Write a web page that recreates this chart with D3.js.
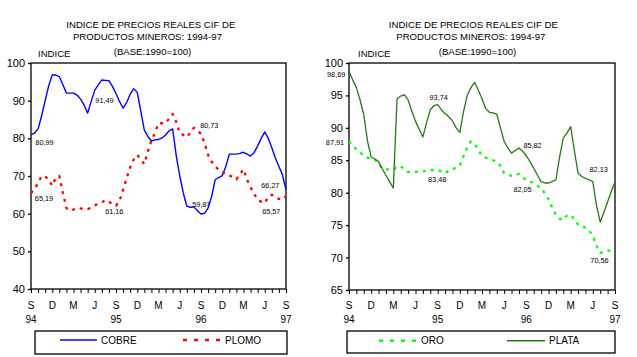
<!DOCTYPE html>
<html>
<head>
<meta charset="utf-8">
<script src="https://cdn.jsdelivr.net/npm/d3@7"></script>
<style>
  html, body { margin: 0; padding: 0; background: #fff; }
  svg { display: block; font-family: "Liberation Sans", Arial, sans-serif; }
</style>
</head>
<body>
<svg id="chart" width="637" height="357"></svg>
<script>
// ---------------- DATA ----------------
// Semi-monthly observations, months elapsed since September 1994
const months = d3.range(0, 36.5, 0.5);

const monthTickLabels = ["S","D","M","J","S","D","M","J","S","D","M","J","S"];
const yearTickLabels = ["94","95","96","97"];
const leftYTicks = [40, 50, 60, 70, 80, 90, 100];
const rightYTicks = [65, 70, 75, 80, 85, 90, 95, 100];

const titleLines = ["INDICE DE PRECIOS REALES CIF DE", "PRODUCTOS MINEROS: 1994-97", "(BASE:1990=100)"];
const yAxisTitle = "INDICE";

const cobre = [81.0,81.4,82.5,86.0,90.0,94.0,96.8,96.8,96.4,94.2,92.0,92.0,92.0,91.5,90.4,88.8,86.7,89.8,92.8,94.2,95.5,95.4,95.3,93.8,91.9,89.8,88.0,89.5,91.7,93.2,92.2,87.2,82.2,80.5,79.3,79.6,79.7,80.1,80.9,82.0,82.5,75.5,70.0,65.5,62.0,61.7,61.8,60.8,59.9,60.1,61.5,64.5,69.0,69.6,70.1,72.5,75.8,75.8,75.8,76.0,76.3,75.8,75.3,76.2,78.0,80.0,81.7,80.0,77.5,74.8,72.5,70.3,66.3];
const plomo = [65.4,66.5,68.2,70.0,69.9,69.0,67.4,69.5,70.0,65.5,61.5,60.8,61.1,61.5,61.4,61.2,61.2,61.6,62.2,62.6,63.0,63.6,63.2,62.4,62.1,63.5,66.3,69.4,72.3,74.4,75.6,74.4,73.2,76.5,79.4,81.5,84.0,84.0,84.0,85.3,86.5,84.4,81.4,80.9,80.3,81.5,82.8,82.0,81.2,78.7,75.6,73.8,72.6,71.6,71.0,70.5,70.1,69.8,69.1,70.5,71.8,69.0,67.0,65.3,63.7,63.2,62.8,64.5,65.0,64.6,63.9,63.7,64.6];
const oro = [87.9,87.2,86.7,86.2,85.7,85.4,85.3,85.1,84.6,83.7,83.6,83.6,83.6,84.0,84.1,83.5,83.2,83.2,83.2,83.2,83.3,83.4,83.5,83.5,83.5,83.3,83.0,83.4,83.6,83.9,84.2,85.6,87.0,87.9,87.6,86.6,85.7,85.4,85.2,85.0,84.8,84.1,83.0,82.8,82.6,82.8,82.9,82.4,81.9,81.7,81.5,81.1,80.7,79.9,79.0,77.7,76.6,76.0,75.8,76.5,76.6,75.9,75.1,74.9,74.6,74.2,73.3,71.8,70.7,70.9,71.1,71.0,70.8];
const plata = [98.7,97.4,96.2,94.3,92.0,88.0,85.5,85.2,84.8,83.7,82.7,81.7,80.7,94.5,94.9,95.1,94.3,92.6,91.0,89.8,88.6,90.8,92.8,93.4,93.6,92.8,92.2,91.7,91.1,90.0,89.3,92.5,95.0,96.2,97.0,95.8,94.5,93.0,92.4,92.3,92.1,90.0,87.9,86.9,86.1,86.5,86.9,86.4,85.7,84.8,83.8,82.7,81.7,81.5,81.5,81.7,82.0,85.5,88.4,89.2,90.2,86.5,83.0,82.5,82.2,82.0,81.7,78.0,75.5,77.0,78.6,80.2,81.7];

// value annotations: month, value, text
const leftNotes = [
  {m: 0, v: 80.99, t: "80,99"}, {m: 0, v: 65.19, t: "65,19"},
  {m: 12, v: 91.49, t: "91,49"}, {m: 12, v: 61.16, t: "61,16"},
  {m: 24, v: 80.73, t: "80,73"}, {m: 24, v: 59.87, t: "59,87"},
  {m: 36, v: 66.27, t: "66,27"}, {m: 36, v: 65.57, t: "65,57"}
];
const rightNotes = [
  {m: 0, v: 98.69, t: "98,69"}, {m: 0, v: 87.91, t: "87,91"},
  {m: 12, v: 93.74, t: "93,74"}, {m: 12, v: 83.48, t: "83,48"},
  {m: 24, v: 85.82, t: "85,82"}, {m: 24, v: 82.05, t: "82,05"},
  {m: 36, v: 82.13, t: "82,13"}, {m: 36, v: 70.56, t: "70,56"}
];

// ---------------- DRAWING ----------------
const svg = d3.select("#chart");

const leftOffsets = [[13.5,7.4],[13,4],[-11.5,5.6],[-1.7,2],[8.3,-10.4],[0.3,-10],[-15.7,-4.9],[-14.7,19]];
const rightOffsets = [[-12.8,3.5],[-14,0.9],[1,-5.9],[-0.5,8.9],[6.2,-9.3],[-3.8,9.9],[-16.3,-8.9],[-15.5,6.9]];

function panel(cfg) {
  const g = svg.append("g");
  const x = d3.scaleLinear().domain([0, 36]).range([cfg.x0, cfg.x1]);
  const y = d3.scaleLinear().domain(cfg.yDomain).range([cfg.y1, cfg.y0]);

  // titles
  cfg.titlePos.forEach((p, i) => {
    g.append("text").attr("x", p[0]).attr("y", p[1])
      .attr("text-anchor", "middle").attr("dominant-baseline", "central")
      .attr("font-size", 9.6).attr("fill", "#000").text(titleLines[i]);
  });
  g.append("text").attr("x", cfg.indiceX).attr("y", 53.5)
    .attr("dominant-baseline", "central").attr("font-size", 9.6).text(yAxisTitle);

  // frame
  g.append("rect").attr("x", cfg.x0).attr("y", cfg.y0)
    .attr("width", cfg.x1 - cfg.x0).attr("height", cfg.y1 - cfg.y0)
    .attr("fill", "none").attr("stroke", "#000").attr("stroke-width", 1.3);

  // y axis
  const ya = g.append("g").attr("transform", `translate(${cfg.x0},0)`)
    .call(d3.axisLeft(y).tickValues(cfg.yTicks).tickSize(3).tickPadding(3).tickFormat(d3.format("d")));
  ya.select(".domain").remove();
  ya.selectAll("line").attr("stroke", "#000").attr("stroke-width", 1.3);
  ya.selectAll("text").attr("font-size", 11).attr("fill", "#000").attr("font-family", "Liberation Sans, Arial, sans-serif");

  // x axis month ticks
  const xa = g.append("g").attr("transform", `translate(0,${cfg.y1})`)
    .call(d3.axisBottom(x).tickValues(d3.range(0, 37, 1)).tickSize(4).tickFormat(""));
  xa.select(".domain").remove();
  xa.selectAll("line").attr("stroke", "#000").attr("stroke-width", 1);

  // month labels
  monthTickLabels.forEach((lab, i) => {
    g.append("text").attr("x", x(i * 3)).attr("y", 305)
      .attr("text-anchor", "middle").attr("dominant-baseline", "central")
      .attr("font-size", 10).text(lab);
  });
  yearTickLabels.forEach((lab, i) => {
    g.append("text").attr("x", x(i * 12)).attr("y", 319)
      .attr("text-anchor", "middle").attr("dominant-baseline", "central")
      .attr("font-size", 10).text(lab);
  });

  // series
  cfg.series.forEach(s => {
    const line = d3.line().x((d, i) => x(months[i])).y(d => y(d));
    g.append("path").datum(s.values).attr("d", line)
      .attr("fill", "none").attr("stroke", s.color).attr("stroke-width", s.width)
      .attr("stroke-dasharray", s.dash || null).attr("stroke-linejoin", "round");
  });

  // annotations
  cfg.notes.forEach((n, i) => {
    const o = cfg.offsets[i];
    g.append("text").attr("x", x(n.m) + o[0]).attr("y", y(n.v) + o[1])
      .attr("text-anchor", "middle").attr("dominant-baseline", "central")
      .attr("font-size", 7.3).attr("fill", "#000").text(n.t);
  });

  // legend
  const L = cfg.legend;
  g.append("rect").attr("x", L.box[0]).attr("y", L.box[1]).attr("width", L.box[2]).attr("height", L.box[3])
    .attr("fill", "none").attr("stroke", "#000").attr("stroke-width", 1.3);
  L.items.forEach(it => {
    const s = cfg.series[it.idx];
    g.append("line").attr("x1", it.x).attr("x2", it.x + it.w).attr("y1", L.ly).attr("y2", L.ly)
      .attr("stroke", s.color).attr("stroke-width", s.dash ? 2.5 : 1.5).attr("stroke-dasharray", s.legendDash || null);
    g.append("text").attr("x", it.x + it.w + 4).attr("y", L.ly)
      .attr("dominant-baseline", "central").attr("font-size", 10).text(s.name);
  });
}

panel({
  x0: 31, x1: 286, y0: 63, y1: 289, yDomain: [40, 100], yTicks: leftYTicks,
  titlePos: [[150.8, 24], [147.5, 36], [152.5, 51.7]], indiceX: 38,
  series: [
    {name: "COBRE", values: cobre, color: "#0000ff", width: 1.4},
    {name: "PLOMO", values: plomo, color: "#ff0000", width: 2.3, dash: "3,5", legendDash: "4,7"}
  ],
  notes: leftNotes, offsets: leftOffsets,
  legend: {box: [35, 331, 252, 23], ly: 340, items: [{idx: 0, x: 60, w: 37}, {idx: 1, x: 183, w: 38}]}
});

panel({
  x0: 349, x1: 615, y0: 63, y1: 290, yDomain: [65, 100], yTicks: rightYTicks,
  titlePos: [[473.3, 24], [470.8, 36], [477.5, 51.7]], indiceX: 358,
  series: [
    {name: "ORO", values: oro, color: "#00ff00", width: 2.3, dash: "3,5", legendDash: "4,7"},
    {name: "PLATA", values: plata, color: "#247a12", width: 1.3}
  ],
  notes: rightNotes, offsets: rightOffsets,
  legend: {box: [347, 331, 268, 22], ly: 340.7, items: [{idx: 0, x: 379, w: 38}, {idx: 1, x: 507, w: 38}]}
});
</script>
</body>
</html>
